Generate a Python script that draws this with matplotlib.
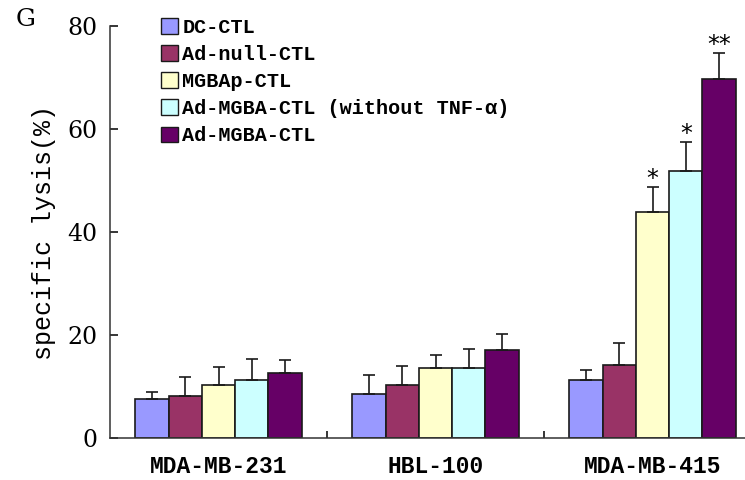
import matplotlib
matplotlib.use("Agg")
import matplotlib.pyplot as plt
import numpy as np

groups = ["MDA-MB-231", "HBL-100", "MDA-MB-415"]
series = ["DC-CTL", "Ad-null-CTL", "MGBAp-CTL", "Ad-MGBA-CTL (without TNF-α)", "Ad-MGBA-CTL"]
colors = ["#9999FF", "#993366", "#FFFFCC", "#CCFFFF", "#660066"]
values = [
    [7.5, 8.6, 11.2],     # DC-CTL
    [8.1, 10.3, 14.2],    # Ad-null-CTL
    [10.3, 13.6, 43.8],   # MGBAp-CTL
    [11.2, 13.6, 51.9],   # Ad-MGBA-CTL (without TNF-a)
    [12.6, 17.0, 69.8],   # Ad-MGBA-CTL
]
errors = [
    [1.4, 3.7, 2.0],
    [3.7, 3.7, 4.3],
    [3.4, 2.6, 4.9],
    [4.2, 3.7, 5.6],
    [2.5, 3.2, 4.9],
]
signif = [
    ["", "", ""],
    ["", "", ""],
    ["", "", "*"],
    ["", "", "*"],
    ["", "", "**"],
]
yticks = [0, 20, 40, 60, 80]

mono = ["Liberation Mono", "DejaVu Sans Mono"]

fig = plt.figure(figsize=(7.45, 4.8), dpi=100)
ax = fig.add_axes([110/745, 42/480, 651/745, 412/480])

x = np.arange(len(groups))
bw = 0.1535
n = len(series)
handles = []
for i in range(n):
    pos = x + (i - (n - 1) / 2) * bw
    b = ax.bar(pos, values[i], bw, color=colors[i], edgecolor="#1a1a1a", linewidth=1.2,
               yerr=[np.zeros(len(groups)), errors[i]],
               error_kw=dict(ecolor="#1a1a1a", elinewidth=1.2, capsize=4.5, capthick=1.2),
               label=series[i], zorder=2)
    handles.append(b)
    for j in range(len(groups)):
        if signif[i][j]:
            ax.annotate(signif[i][j], (pos[j], values[i][j] + errors[i][j]),
                        xytext=(0, -3), textcoords="offset points", ha="center", va="bottom",
                        fontsize=17, family="DejaVu Sans")

ax.set_xlim(-0.5, 2.5)
ax.set_ylim(0, 80)
ax.set_yticks(yticks)
ax.set_yticklabels([str(t) for t in yticks], family="DejaVu Serif", fontsize=17)
ax.tick_params(axis="y", direction="in", length=6, width=1.1, pad=9)

ax.set_xticks([0.5, 1.5, 2.5])
ax.set_xticklabels([])
ax.tick_params(axis="x", which="major", direction="in", length=5, width=1.1)
ax.set_xticks(x, groups, minor=True)
ax.tick_params(axis="x", which="minor", length=0, pad=12)
for lab in ax.get_xticklabels(minor=True):
    lab.set_family(mono)
    lab.set_fontsize(16.5)
    lab.set_fontweight("bold")

for s in ["top", "right"]:
    ax.spines[s].set_visible(False)
for s in ["left", "bottom"]:
    ax.spines[s].set_linewidth(1.1)
    ax.spines[s].set_color("#333333")

ax.set_ylabel("specific lysis(%)", family=mono, fontsize=18, labelpad=8)

leg = ax.legend(handles=handles, loc="upper left", bbox_to_anchor=(161/745, 1 - 18/480),
                bbox_transform=fig.transFigure, frameon=False, prop=dict(family=mono, size=14.5, weight="bold"),
                handlelength=0.85, handleheight=0.8, handletextpad=0.2, labelspacing=0.4,
                borderpad=0, borderaxespad=0)
for p in leg.get_patches():
    p.set_linewidth(1.0)

fig.text(16/745, 1 - 19/480, "G", family="DejaVu Serif", fontsize=18, va="center", ha="left")

fig.savefig("out.png", dpi=100)
